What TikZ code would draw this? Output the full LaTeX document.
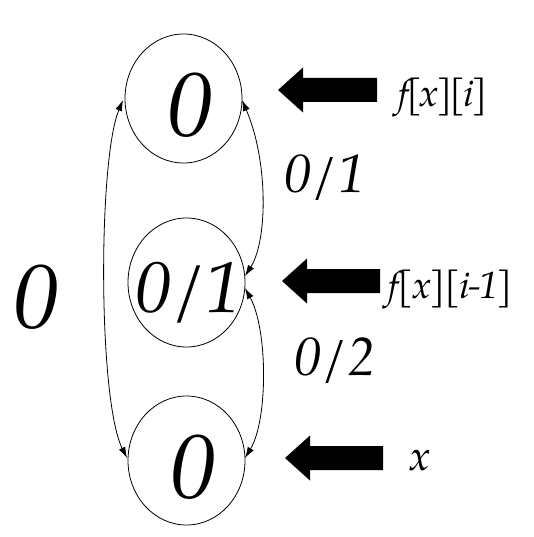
\documentclass[tikz,border=0pt]{standalone}
\usepackage{fontspec}
\setmainfont{texgyrepagella-regular.otf}[ItalicFont=texgyrepagella-italic.otf]
\usetikzlibrary{arrows.meta,shapes.geometric}
\tikzset{
  statebox/.style={draw, ellipse, line width=0.8pt, minimum width=117pt, minimum height=129pt, inner sep=0pt},
  bigdigit/.style={font=\fontsize{91}{91}\selectfont\itshape, anchor=base, inner sep=0pt},
  middigit/.style={font=\fontsize{72}{72}\selectfont\itshape, anchor=base, inner sep=0pt},
  lbl/.style={font=\fontsize{54}{54}\selectfont\itshape, anchor=base, inner sep=0pt},
  sidetext/.style={font=\fontsize{38}{38}\selectfont\itshape, anchor=base west, inner sep=0pt},
  conn/.style={line width=0.8pt, {Latex[length=11pt,width=7pt]}-{Latex[length=11pt,width=7pt]}},
  blockarr/.style={fill=black}
}
\newcommand{\BlockArr}[3]{% tip x, center y, tail x
  \fill[blockarr] (#1,#2) -- ++(25,-22.5) -- ++(0,10.5) -- (#3,#2-12) -- (#3,#2+12) -- (#1+25,#2+12) -- ++(0,10.5) -- cycle;}
\begin{document}
\begin{tikzpicture}[x=1pt,y=-1pt]
\useasboundingbox (0,0) rectangle (534,537);
\node[statebox] (top) at (183.5,98.5) {};
\node[statebox] (mid) at (186.5,282.5) {};
\node[statebox] (bot) at (186.5,460.5) {};
\node[bigdigit] (ttop) at (190,137) {0};
\node[middigit] (tmid) at (188.5,312) {0/1};
\node[bigdigit] (tbot) at (193.5,498) {0};
\node[bigdigit] (tleft) at (36,328) {0};
\node[lbl] (l1) at (325,193) {0/1};
\node[lbl] (l2) at (335,375) {0/2};
\coordinate (tw) at (123,100);
\coordinate (bw) at (127,458);
\coordinate (te) at (242,100);
\coordinate (me1) at (245,276);
\coordinate (me2) at (245,288);
\coordinate (be) at (245,458);
\draw[conn] (bw) .. controls (98,400) and (98,160) .. (tw);
\draw[conn] (me1) .. controls (268,240) and (268,160) .. (te);
\draw[conn] (me2) .. controls (268,330) and (268,420) .. (be);
\BlockArr{278}{90}{377}
\BlockArr{282}{281}{380}
\BlockArr{285}{458}{383}
\node[sidetext] (s1) at (398,107) {\addfontfeature{LetterSpace=-7}f[x][i]};
\node[sidetext] (s2) at (388,298) {\addfontfeature{LetterSpace=-4}f[x][i-1]};
\node[sidetext, font=\fontsize{42}{42}\selectfont\itshape] (s3) at (409,470) {x};
\end{tikzpicture}
\end{document}
